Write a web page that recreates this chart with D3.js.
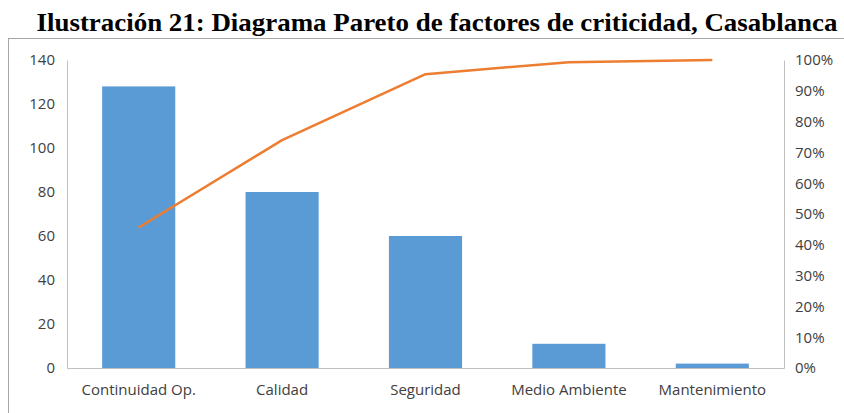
<!DOCTYPE html>
<html><head><meta charset="utf-8">
<script src="https://cdn.jsdelivr.net/npm/d3@7"></script>
<style>html,body{margin:0;padding:0;background:#fff;}svg{display:block;}</style>
</head><body>
<svg id="c" width="844" height="413"></svg>
<script>
const title = "Ilustración 21: Diagrama Pareto de factores de criticidad, Casablanca";
const categories = ["Continuidad Op.", "Calidad", "Seguridad", "Medio Ambiente", "Mantenimiento"];
const values = [128, 80, 60, 11, 2];
const cumulativePct = [45.6, 74.0, 95.4, 99.3, 100];
const leftTicks = [0, 20, 40, 60, 80, 100, 120, 140];
const rightTicks = [0, 10, 20, 30, 40, 50, 60, 70, 80, 90, 100];

const svg = d3.select("#c");
const m = {l: 67, r: 784, t: 60, b: 368};
const font = "'Open Sans', sans-serif";
const txt = "#404040";

// outer frame
svg.append("rect").attr("x", 8.5).attr("y", 38.5).attr("width", 900).attr("height", 500)
  .attr("fill", "none").attr("stroke", "#a6a6a6").attr("stroke-width", 1);

// title
const t = svg.append("text").attr("x", 437).attr("y", 31).attr("text-anchor", "middle")
  .attr("font-family", "'Liberation Serif', 'Times New Roman', serif").attr("font-weight", "bold")
  .attr("font-size", 26).attr("fill", "#000").text(title);
t.attr("textLength", 801).attr("lengthAdjust", "spacingAndGlyphs");

const x = d3.scaleBand().domain(categories).range([m.l, m.r]).paddingInner(0.49).paddingOuter(0.245);
const y = d3.scaleLinear().domain([0, 140]).range([m.b, m.t]);
const y2 = d3.scaleLinear().domain([0, 100]).range([m.b, m.t]);

// bars
svg.append("g").selectAll("rect").data(values).join("rect")
  .attr("x", (d, i) => x(categories[i]))
  .attr("y", d => y(d))
  .attr("width", x.bandwidth())
  .attr("height", d => y(0) - y(d))
  .attr("fill", "#5B9BD5");

// left axis
const ga = svg.append("g").attr("transform", `translate(${m.l},0)`)
  .call(d3.axisLeft(y).tickValues(leftTicks).tickSize(0).tickPadding(12));
ga.select(".domain").attr("stroke", "#bfbfbf");
ga.selectAll("text").attr("font-family", font).attr("font-size", 15).attr("fill", txt);

// right axis
const gr = svg.append("g").attr("transform", `translate(${m.r},0)`)
  .call(d3.axisRight(y2).tickValues(rightTicks).tickSize(0).tickPadding(11).tickFormat(d => d + "%"));
gr.select(".domain").attr("stroke", "#bfbfbf");
gr.selectAll("text").attr("font-family", font).attr("font-size", 15).attr("fill", txt);

// bottom axis
const gb = svg.append("g").attr("transform", `translate(0,${m.b})`)
  .call(d3.axisBottom(x).tickSize(0).tickPadding(16));
gb.select(".domain").attr("stroke", "#bfbfbf");
gb.selectAll("text").attr("font-family", font).attr("font-size", 15).attr("fill", txt);

// cumulative line
const line = d3.line().x((d, i) => x(categories[i]) + x.bandwidth() / 2).y(d => y2(d));
svg.append("path").datum(cumulativePct).attr("d", line)
  .attr("fill", "none").attr("stroke", "#ED7D31").attr("stroke-width", 2.5).attr("stroke-linejoin", "round");
</script>
</body></html>
